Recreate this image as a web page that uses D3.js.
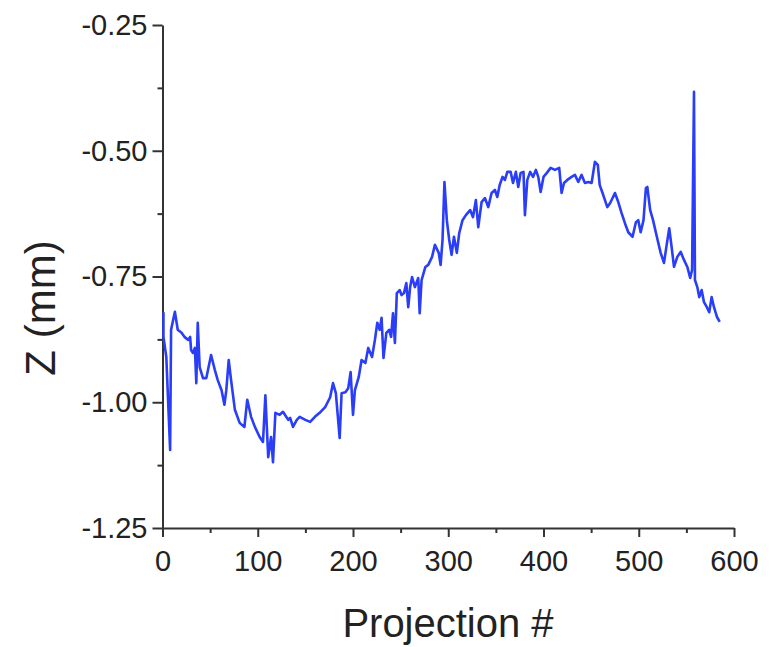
<!DOCTYPE html>
<html>
<head>
<meta charset="utf-8">
<script src="https://cdn.jsdelivr.net/npm/d3@7"></script>
<style>
  html, body { margin: 0; padding: 0; background: #fff; }
  svg { display: block; }
  .axis path, .axis line { stroke: #333; stroke-width: 2; }
  .axis text { font-family: "Liberation Sans", Arial, sans-serif; font-size: 29px; fill: #222; }
  .title { font-family: "Liberation Sans", Arial, sans-serif; fill: #222; }
</style>
</head>
<body>
<svg id="chart"></svg>
<script>
// Data (projection index, Z in mm)
const projection = [
  1, 1, 4, 8, 9, 13, 16, 20, 23, 27, 29, 30, 32, 34, 35.5, 37, 39, 42.5, 46, 51,
  55, 58, 62, 65, 67, 69.5, 72, 76, 81, 86, 89, 93, 97, 102, 105.5, 108, 111, 114, 116, 118.5,
  123, 126.5, 132, 134, 137, 141, 144, 150, 155, 160, 165, 171, 176, 179, 182, 186, 188, 192, 195, 197.5,
  200, 202, 206, 209, 213, 216, 220, 223, 225.5, 228, 230, 232, 235, 238, 240, 242, 244, 246, 249, 251,
  253.5, 256, 258, 260, 262, 265, 268.5, 270, 272, 276, 279, 283, 286, 290, 292, 294, 296, 298.5, 301, 303.5,
  306, 309, 311.5, 315, 318.5, 323, 326, 329, 331.5, 335, 338.5, 342, 345.5, 349, 351.5, 354, 357, 359.5, 362, 365.5,
  368, 371, 373.5, 376, 379, 380.5, 383, 386, 389, 392, 394.5, 397, 400, 403.5, 407.5, 412, 416.5, 419, 421.5, 425,
  429.5, 433, 436.5, 440, 443.5, 447, 450.5, 454, 457, 459, 462, 464.5, 467, 470, 472.5, 475, 478.5, 482, 485.5, 489,
  493.5, 497, 499.5, 502, 505, 507.5, 509, 512, 515, 519, 523, 526.5, 529, 532, 534.5, 537, 540.5, 544, 547.5, 551,
  554, 556, 558, 559, 561.5, 563.5, 566, 568.5, 571.5, 574, 576.5, 579, 582, 585
];
const zValues = [
  -0.821, -0.870, -0.910, -1.095, -0.856, -0.820, -0.856, -0.862, -0.870, -0.876, -0.870, -0.896, -0.902, -0.892, -0.962, -0.842, -0.930, -0.952, -0.952, -0.906,
  -0.936, -0.956, -0.976, -1.005, -0.976, -0.916, -0.956, -1.015, -1.041, -1.049, -0.995, -1.029, -1.049, -1.069, -1.079, -0.986, -1.109, -1.069, -1.119, -1.021,
  -1.025, -1.019, -1.035, -1.031, -1.049, -1.035, -1.029, -1.035, -1.039, -1.029, -1.021, -1.009, -0.990, -0.962, -0.982, -1.071, -0.982, -0.980, -0.972, -0.940,
  -1.025, -0.976, -0.950, -0.916, -0.922, -0.892, -0.910, -0.876, -0.842, -0.856, -0.832, -0.912, -0.862, -0.856, -0.870, -0.823, -0.882, -0.783, -0.777, -0.787,
  -0.783, -0.763, -0.811, -0.771, -0.751, -0.771, -0.753, -0.823, -0.757, -0.731, -0.727, -0.711, -0.687, -0.703, -0.727, -0.677, -0.562, -0.638, -0.677, -0.707,
  -0.671, -0.703, -0.664, -0.638, -0.628, -0.618, -0.632, -0.598, -0.652, -0.602, -0.594, -0.612, -0.584, -0.578, -0.592, -0.568, -0.552, -0.558, -0.542, -0.542,
  -0.564, -0.542, -0.572, -0.544, -0.542, -0.628, -0.558, -0.542, -0.552, -0.538, -0.552, -0.582, -0.552, -0.544, -0.534, -0.538, -0.534, -0.584, -0.564, -0.558,
  -0.552, -0.548, -0.562, -0.548, -0.564, -0.562, -0.564, -0.522, -0.528, -0.568, -0.584, -0.598, -0.612, -0.604, -0.594, -0.584, -0.602, -0.624, -0.644, -0.662,
  -0.671, -0.642, -0.638, -0.662, -0.638, -0.574, -0.572, -0.618, -0.638, -0.671, -0.703, -0.723, -0.691, -0.654, -0.691, -0.731, -0.711, -0.701, -0.717, -0.731,
  -0.753, -0.737, -0.383, -0.757, -0.771, -0.791, -0.777, -0.801, -0.811, -0.821, -0.791, -0.811, -0.830, -0.840
];
const xTicks = [0, 100, 200, 300, 400, 500, 600];
const xMinorTicks = [50, 150, 250, 350, 450, 550];
const yTicks = [-0.25, -0.50, -0.75, -1.00, -1.25];
const yMinorTicks = [-0.375, -0.625, -0.875, -1.125];

const width = 774, height = 647;
const svg = d3.select('#chart').attr('width', width).attr('height', height);

const x = d3.scaleLinear().domain([0, 600]).range([162.5, 734]);
const y = d3.scaleLinear().domain([-1.25, -0.25]).range([528, 25]);

// plain hyphen for negatives, like the original
const yFormat = d => d3.format('.2f')(d).replace('\u2212', '-');

// Minor ticks first so the major axis draws over them
svg.append('g').attr('class', 'axis')
  .attr('transform', `translate(0,${y(-1.25)})`)
  .call(d3.axisBottom(x).tickValues(xMinorTicks).tickSize(5).tickSizeOuter(0).tickFormat(''))
  .call(g => g.select('.domain').remove());
svg.append('g').attr('class', 'axis')
  .attr('transform', `translate(${x(0)},0)`)
  .call(d3.axisLeft(y).tickValues(yMinorTicks).tickSize(5).tickSizeOuter(0).tickFormat(''))
  .call(g => g.select('.domain').remove());

svg.append('g').attr('class', 'axis')
  .attr('transform', `translate(0,${y(-1.25)})`)
  .call(d3.axisBottom(x).tickValues(xTicks).tickSize(9).tickSizeOuter(0).tickPadding(13).tickFormat(d3.format('d')));

svg.append('g').attr('class', 'axis')
  .attr('transform', `translate(${x(0)},0)`)
  .call(d3.axisLeft(y).tickValues(yTicks).tickSize(10).tickSizeOuter(0).tickPadding(5).tickFormat(yFormat));

// Data line
const line = d3.line().x((d, i) => x(projection[i])).y(d => y(d));
svg.append('path')
  .datum(zValues)
  .attr('d', line)
  .attr('fill', 'none')
  .attr('stroke', '#2a3df7')
  .attr('stroke-width', 2.6)
  .attr('stroke-linejoin', 'round');

// Axis titles
svg.append('text').attr('class', 'title')
  .attr('x', 448).attr('y', 637)
  .attr('text-anchor', 'middle')
  .style('font-size', '40px')
  .text('Projection #');

svg.append('text').attr('class', 'title')
  .attr('transform', 'translate(55,308) rotate(-90)')
  .attr('text-anchor', 'middle')
  .style('font-size', '42px')
  .text('Z (mm)');
</script>
</body>
</html>
